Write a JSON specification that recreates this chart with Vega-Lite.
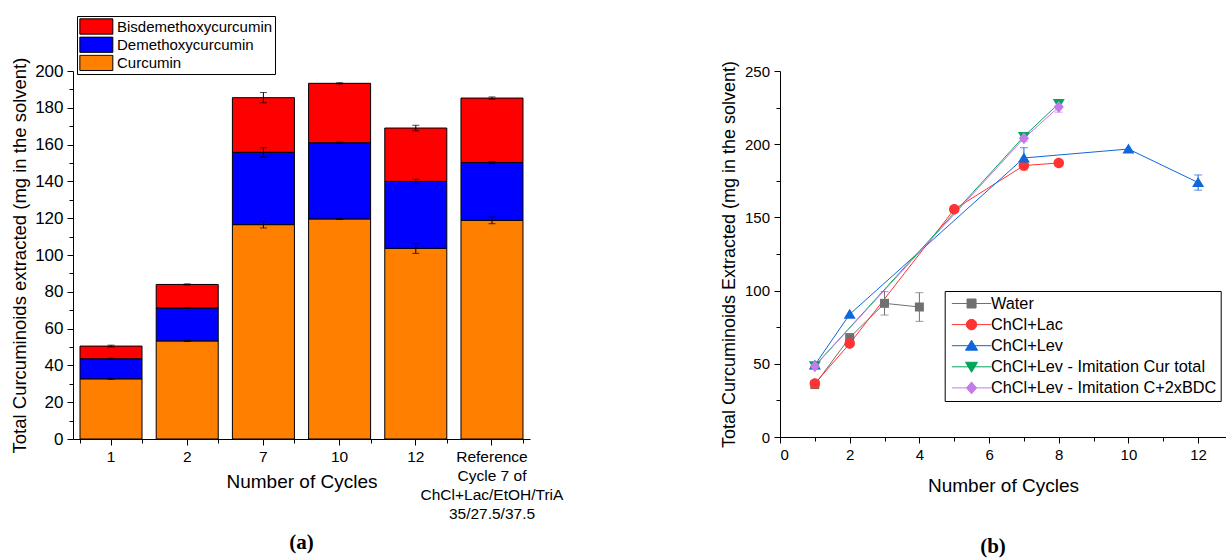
{
  "$schema": "https://vega.github.io/schema/vega-lite/v6.json",
  "padding": {"left": 10, "top": 15, "right": 0, "bottom": 0},
  "spacing": 250,
  "bounds": "flush",
  "config": {
    "view": {"stroke": null},
    "axis": {"domainColor": "black", "tickColor": "black", "labelColor": "black", "titleColor": "black", "labelFont": "Liberation Sans", "titleFont": "Liberation Sans", "titleFontWeight": "normal", "grid": false, "domainWidth": 1, "tickWidth": 1, "labelOverlap": false},
    "legend": {"labelFont": "Liberation Sans", "labelColor": "black"}
  },
  "resolve": {
    "scale": {"color": "independent", "shape": "independent"},
    "legend": {"color": "independent", "shape": "independent"}
  },
  "hconcat": [
    {
      "width": 457,
      "height": 368,
      "title": {"text": "(a)", "orient": "bottom", "offset": 10, "font": "Liberation Serif", "fontSize": 21, "fontWeight": "bold", "color": "black", "anchor": "middle"},
      "data": {"values": [
        {"cycle": "1", "component": "Curcumin", "order": 1, "value": 32.7, "err": 0.3},
        {"cycle": "1", "component": "Demethoxycurcumin", "order": 2, "value": 10.9, "err": 0.3},
        {"cycle": "1", "component": "Bisdemethoxycurcumin", "order": 3, "value": 6.9, "err": 0.5},
        {"cycle": "2", "component": "Curcumin", "order": 1, "value": 53.3, "err": 0.3},
        {"cycle": "2", "component": "Demethoxycurcumin", "order": 2, "value": 17.9, "err": 0.3},
        {"cycle": "2", "component": "Bisdemethoxycurcumin", "order": 3, "value": 12.8, "err": 0.3},
        {"cycle": "7", "component": "Curcumin", "order": 1, "value": 116.5, "err": 1.8},
        {"cycle": "7", "component": "Demethoxycurcumin", "order": 2, "value": 39.3, "err": 2.5},
        {"cycle": "7", "component": "Bisdemethoxycurcumin", "order": 3, "value": 29.7, "err": 2.8},
        {"cycle": "10", "component": "Curcumin", "order": 1, "value": 119.6, "err": 0.3},
        {"cycle": "10", "component": "Demethoxycurcumin", "order": 2, "value": 41.4, "err": 0.3},
        {"cycle": "10", "component": "Bisdemethoxycurcumin", "order": 3, "value": 32.3, "err": 0.3},
        {"cycle": "12", "component": "Curcumin", "order": 1, "value": 103.6, "err": 2.7},
        {"cycle": "12", "component": "Demethoxycurcumin", "order": 2, "value": 36.4, "err": 1.2},
        {"cycle": "12", "component": "Bisdemethoxycurcumin", "order": 3, "value": 29.0, "err": 1.5},
        {"cycle": "Reference\nCycle 7 of\nChCl+Lac/EtOH/TriA\n35/27.5/37.5", "component": "Curcumin", "order": 1, "value": 118.8, "err": 1.8},
        {"cycle": "Reference\nCycle 7 of\nChCl+Lac/EtOH/TriA\n35/27.5/37.5", "component": "Demethoxycurcumin", "order": 2, "value": 31.5, "err": 0.5},
        {"cycle": "Reference\nCycle 7 of\nChCl+Lac/EtOH/TriA\n35/27.5/37.5", "component": "Bisdemethoxycurcumin", "order": 3, "value": 35.0, "err": 0.6}
      ]},
      "layer": [
        {
          "mark": {"type": "bar", "stroke": "black", "strokeWidth": 1},
          "encoding": {
            "x": {"field": "cycle", "type": "nominal", "title": "Number of Cycles",
              "sort": ["1", "2", "7", "10", "12", "Reference\nCycle 7 of\nChCl+Lac/EtOH/TriA\n35/27.5/37.5"],
              "scale": {"paddingInner": 0.186, "paddingOuter": 0.092},
              "axis": {"orient": "bottom", "offset": 0, "labelAngle": 0, "labelFontSize": 15.5, "labelLineHeight": 19, "labelExpr": "split(datum.label, '\\n')", "labelPadding": 4, "tickSize": 6, "titleFontSize": 19, "titleY": 42, "titleBaseline": "middle"}},
            "y": {"field": "value", "type": "quantitative", "stack": "zero", "title": "Total Curcuminoids extracted (mg in the solvent)",
              "scale": {"domain": [0, 200], "nice": false},
              "axis": {"orient": "left", "offset": 0, "values": [0, 20, 40, 60, 80, 100, 120, 140, 160, 180, 200], "labelOverlap": false, "labelFontSize": 17, "tickSize": 6, "labelPadding": 4, "titleFontSize": 18.5, "titlePadding": 5}},
            "color": {"field": "component", "type": "nominal",
              "scale": {"domain": ["Bisdemethoxycurcumin", "Demethoxycurcumin", "Curcumin"], "range": ["#FF0000", "#0000FF", "#FF8000"]},
              "legend": {"title": null, "orient": "none", "legendX": 4, "legendY": -55, "strokeColor": "black", "fillColor": "white", "padding": 2, "cornerRadius": 0, "symbolType": "M-1,-1H3.31V1H-1Z", "symbolSize": 234, "symbolStrokeColor": "black", "symbolStrokeWidth": 1, "symbolOpacity": 1, "labelFontSize": 15, "labelOffset": 21, "clipHeight": 17, "rowPadding": 1.2}},
            "order": {"field": "order", "type": "quantitative"}
          }
        },
        {
          "transform": [{"stack": "value", "groupby": ["cycle"], "sort": [{"field": "order", "order": "ascending"}], "as": ["lo", "hi"]}],
          "mark": {"type": "errorbar", "color": "black", "thickness": 1, "ticks": {"size": 7}},
          "encoding": {
            "x": {"field": "cycle", "type": "nominal", "title": null,
              "sort": ["1", "2", "7", "10", "12", "Reference\nCycle 7 of\nChCl+Lac/EtOH/TriA\n35/27.5/37.5"],
              "axis": {"orient": "bottom", "offset": 0, "title": null, "labels": false, "domain": false, "tickBand": "extent", "tickSize": 4}},
            "y": {"field": "hi", "type": "quantitative", "title": null, "scale": {"domain": [0, 200], "nice": false},
              "axis": {"orient": "left", "offset": 0, "title": null, "labels": false, "domain": false, "values": [10, 30, 50, 70, 90, 110, 130, 150, 170, 190], "tickSize": 4}},
            "yError": {"field": "err"}
          }
        }
      ],
      "resolve": {"axis": {"x": "independent", "y": "independent"}}
    },
    {
      "width": 446,
      "height": 366,
      "title": {"text": "(b)", "orient": "bottom", "offset": 41, "font": "Liberation Serif", "fontSize": 21, "fontWeight": "bold", "color": "black", "anchor": "middle", "dx": -10},
      "data": {"values": [
        {"series": "Water", "cycle": 1, "value": 35.8, "err": 0},
        {"series": "Water", "cycle": 2, "value": 67.9, "err": 0},
        {"series": "Water", "cycle": 3, "value": 91.3, "err": 8},
        {"series": "Water", "cycle": 4, "value": 88.8, "err": 9.8},
        {"series": "ChCl+Lac", "cycle": 1, "value": 36.5, "err": 0},
        {"series": "ChCl+Lac", "cycle": 2, "value": 63.8, "err": 1},
        {"series": "ChCl+Lac", "cycle": 5, "value": 155.5, "err": 0},
        {"series": "ChCl+Lac", "cycle": 7, "value": 185.4, "err": 3},
        {"series": "ChCl+Lac", "cycle": 8, "value": 187.2, "err": 0},
        {"series": "ChCl+Lev", "cycle": 1, "value": 49.2, "err": 0},
        {"series": "ChCl+Lev", "cycle": 2, "value": 83.8, "err": 0},
        {"series": "ChCl+Lev", "cycle": 7, "value": 190.6, "err": 7},
        {"series": "ChCl+Lev", "cycle": 10, "value": 196.7, "err": 0},
        {"series": "ChCl+Lev", "cycle": 12, "value": 173.8, "err": 5.2},
        {"series": "ChCl+Lev - Imitation Cur total", "cycle": 1, "value": 48.6, "err": 1.5},
        {"series": "ChCl+Lev - Imitation Cur total", "cycle": 7, "value": 205.3, "err": 1.5},
        {"series": "ChCl+Lev - Imitation Cur total", "cycle": 8, "value": 227.8, "err": 1.5},
        {"series": "ChCl+Lev - Imitation C+2xBDC", "cycle": 1, "value": 48.4, "err": 2},
        {"series": "ChCl+Lev - Imitation C+2xBDC", "cycle": 7, "value": 204.0, "err": 2},
        {"series": "ChCl+Lev - Imitation C+2xBDC", "cycle": 8, "value": 225.4, "err": 3.5}
      ]},
      "encoding": {
        "x": {"field": "cycle", "type": "quantitative", "title": "Number of Cycles", "scale": {"domain": [0, 12.8], "nice": false, "zero": false},
          "axis": {"values": [0, 1, 2, 3, 4, 5, 6, 7, 8, 9, 10, 11, 12], "labelExpr": "datum.value % 2 == 0 ? datum.label : ''", "labelOverlap": false, "labelFontSize": {"condition": {"test": "datum.value % 2 != 0", "value": 0.1}, "value": 15}, "tickSize": {"condition": {"test": "datum.value % 2 != 0", "value": 4}, "value": 6}, "labelPadding": 4, "titleFontSize": 19, "titleY": 48.3, "titleBaseline": "middle"}},
        "y": {"field": "value", "type": "quantitative", "title": "Total Curcuminoids Extracted (mg in the solvent)", "scale": {"domain": [0, 250], "nice": false},
          "axis": {"values": [0, 25, 50, 75, 100, 125, 150, 175, 200, 225, 250], "labelExpr": "datum.value % 50 == 0 ? datum.label : ''", "labelOverlap": false, "labelFontSize": {"condition": {"test": "datum.value % 50 != 0", "value": 0.1}, "value": 15}, "tickSize": {"condition": {"test": "datum.value % 50 != 0", "value": 4}, "value": 6}, "labelPadding": 4.5, "titleFontSize": 18, "titlePadding": 6}},
        "color": {"field": "series", "type": "nominal",
          "scale": {"domain": ["Water", "ChCl+Lac", "ChCl+Lev", "ChCl+Lev - Imitation Cur total", "ChCl+Lev - Imitation C+2xBDC"], "range": ["#707070", "#FF3333", "#0F67DA", "#00A65A", "#C67BEA"]},
          "legend": {"title": null, "orient": "none", "legendX": 164.7, "legendY": 220, "strokeColor": "black", "fillColor": "white", "padding": 4, "cornerRadius": 0, "symbolSize": 100, "symbolStrokeWidth": 1, "symbolOpacity": 1, "labelFontSize": 16.3, "labelLimit": 400, "labelOffset": 26, "clipHeight": 17, "rowPadding": 4.1}}
      },
      "layer": [
        {"mark": {"type": "line", "strokeWidth": 1}},
        {
          "transform": [{"filter": "datum.err > 0"}],
          "mark": {"type": "errorbar", "thickness": 1, "ticks": {"size": 8}},
          "encoding": {"yError": {"field": "err"}}
        },
        {"transform": [{"filter": "datum.series == 'Water'"}], "mark": {"type": "point", "filled": true, "opacity": 1, "size": 100, "strokeWidth": 1, "shape": "M-0.9,-0.9H0.9V0.9H-0.9Z"}},
        {"transform": [{"filter": "datum.series == 'ChCl+Lac'"}], "mark": {"type": "point", "filled": true, "opacity": 1, "size": 100, "strokeWidth": 1, "shape": "M-1.05,0A1.05,1.05 0 1,0 1.05,0A1.05,1.05 0 1,0 -1.05,0Z"}},
        {"transform": [{"filter": "datum.series == 'ChCl+Lev'"}], "mark": {"type": "point", "filled": true, "opacity": 1, "size": 100, "strokeWidth": 1, "shape": "M0,-1.1L1.2,0.9H-1.2Z"}},
        {"transform": [{"filter": "datum.series == 'ChCl+Lev - Imitation Cur total'"}], "mark": {"type": "point", "filled": true, "opacity": 1, "size": 100, "strokeWidth": 1, "shape": "M0,1.1L1.2,-0.9H-1.2Z"}},
        {"transform": [{"filter": "datum.series == 'ChCl+Lev - Imitation C+2xBDC'"}], "mark": {"type": "point", "filled": true, "opacity": 1, "size": 100, "strokeWidth": 1, "shape": "M0,-1.2L1,0L0,1.2L-1,0Z"}},
        {
          "mark": {"type": "point", "filled": true, "opacity": 0, "size": 100},
          "encoding": {
            "shape": {"field": "series", "type": "nominal",
              "scale": {"domain": ["Water", "ChCl+Lac", "ChCl+Lev", "ChCl+Lev - Imitation Cur total", "ChCl+Lev - Imitation C+2xBDC"],
                "range": ["M-1,0H6.88M2.04,-0.9H3.84V0.9H2.04Z", "M-1,0H6.88M1.89,0A1.05,1.05 0 1,0 3.99,0A1.05,1.05 0 1,0 1.89,0Z", "M-1,0H6.88M2.94,-1.1L4.14,0.9H1.74Z", "M-1,0H6.88M2.94,1.1L4.14,-0.9H1.74Z", "M-1,0H6.88M2.94,-1.2L3.94,0L2.94,1.2L1.94,0Z"]},
              "legend": {"title": null, "orient": "none", "legendX": 164.7, "legendY": 220, "strokeColor": "black", "fillColor": "white", "padding": 4, "cornerRadius": 0, "symbolSize": 100, "symbolStrokeWidth": 1, "symbolOpacity": 1, "labelFontSize": 16.3, "labelLimit": 400, "labelOffset": 26, "clipHeight": 17, "rowPadding": 4.1}}
          }
        }
      ]
    }
  ]
}
